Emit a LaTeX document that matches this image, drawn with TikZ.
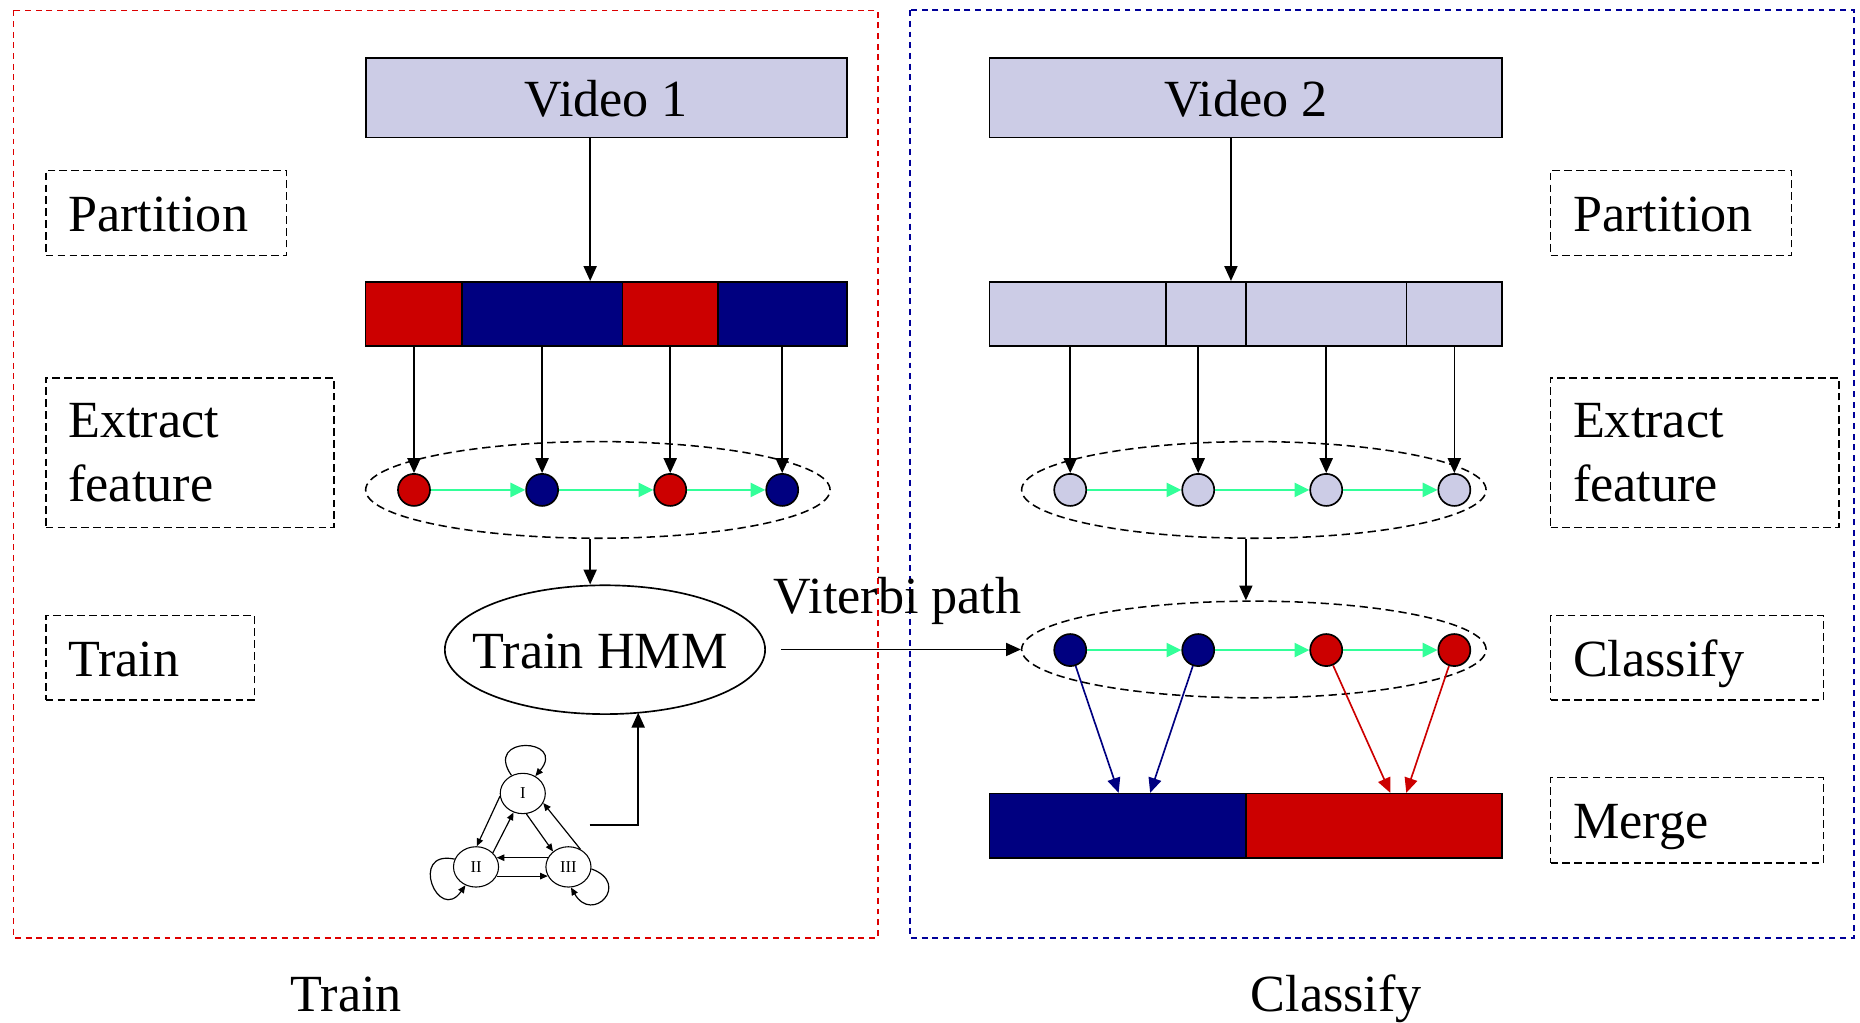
\documentclass[tikz,border=0pt]{standalone}
\usepackage{fontspec}
\setmainfont{Liberation Serif}
\usetikzlibrary{arrows.meta,shapes.geometric}
\definecolor{myred}{HTML}{CC0000}
\definecolor{mynavy}{HTML}{000080}
\definecolor{lav}{HTML}{CCCCE6}
\definecolor{mint}{HTML}{33FF99}
\definecolor{framered}{HTML}{DD0000}
\definecolor{frameblue}{HTML}{000099}
\begin{document}
\begin{tikzpicture}[x=1pt,y=1pt,
  big/.style={font=\fontsize{44}{54}\selectfont},
  lbl/.style={draw, dash pattern=on 6.5pt off 3.5pt, line width=1.2pt, big, align=left, anchor=north west, inner xsep=19pt, inner ysep=0pt},
  one/.style={text height=31pt, text depth=0pt},
  vbox/.style={draw, fill=lav, line width=1.4pt, minimum height=67pt, inner sep=0pt, big, one},
  seg/.style={draw, line width=1.3pt, minimum height=54.2pt, inner sep=0pt},
  dot/.style={circle, draw, line width=1.4pt, minimum size=27pt, inner sep=0pt},
  fe/.style={draw, ellipse, dash pattern=on 7pt off 4pt, line width=1.3pt, minimum width=391.5pt, minimum height=81.5pt, inner sep=0pt},
  arr/.style={-{Triangle[length=12.5pt,width=11pt]}, line width=1.4pt},
  garr/.style={-{Triangle[length=12.5pt,width=12pt]}, line width=1.6pt, draw=mint, fill=mint},
  hmmnode/.style={draw, ellipse, minimum width=38pt, minimum height=34pt, inner sep=0pt, line width=0.9pt, font=\fontsize{14}{16}\selectfont},
  sarr/.style={-{Triangle[length=6.5pt,width=5.5pt]}, line width=1pt},
  framebox/.style={dash pattern=on 5pt off 4pt, line width=1.3pt}
]
\useasboundingbox (0,0) rectangle (1568,-862);

% frames
\draw[framebox, draw=framered] (11.5,-8.8) rectangle (740,-790.6);
\draw[framebox, draw=frameblue] (767,-8.6) rectangle (1563,-790.6);

% bottom titles
\node[big, anchor=base] (tTrain) at (292,-852.5) {Train};
\node[big, anchor=base] (tClassify) at (1126.5,-852.5) {Classify};

% left label boxes
\node[lbl, one, minimum height=72pt, text width=165pt] (lPart) at (38,-143) {Partition};
\node[lbl, minimum height=126pt, text width=205pt] (lExt) at (38,-318) {Extract\\feature};
\node[lbl, one, minimum height=71pt, text width=138pt] (lTrain) at (38,-518.5) {Train};

% right label boxes
\node[lbl, one, minimum height=72pt, text width=165pt] (rPart) at (1306.5,-143) {Partition};
\node[lbl, minimum height=126pt, text width=205pt] (rExt) at (1306.5,-318) {Extract\\feature};
\node[lbl, one, minimum height=71pt, text width=192pt] (rCls) at (1306.5,-518.5) {Classify};
\node[lbl, one, minimum height=72pt, text width=192pt] (rMerge) at (1306.5,-655) {Merge};

% videos
\node[vbox, minimum width=405.6pt] (v1) at (511.1,-82.5) {Video 1};
\node[vbox, minimum width=432.2pt] (v2) at (1050.3,-82.5) {Video 2};

% left partition bar
\node[seg, fill=myred, minimum width=81pt] (p1) at (348.8,-264.6) {};
\node[seg, fill=mynavy, minimum width=135.4pt] (p2) at (457,-264.6) {};
\node[seg, fill=myred, minimum width=80.4pt] (p3) at (564.9,-264.6) {};
\node[seg, fill=mynavy, minimum width=108.8pt] (p4) at (659.5,-264.6) {};

% right partition bar
\node[seg, fill=lav, minimum width=148.7pt] (q1) at (908.55,-264.6) {};
\node[seg, fill=lav, minimum width=67.4pt] (q2) at (1016.6,-264.6) {};
\node[seg, fill=lav, minimum width=135.2pt] (q3) at (1117.9,-264.6) {};
\node[seg, fill=lav, minimum width=80.9pt] (q4) at (1225.95,-264.6) {};

% feature ellipses
\node[fe] (fe1) at (504,-413) {};
\node[fe] (fe2) at (1057,-413) {};
\node[fe] (cls) at (1057,-547.5) {};

% circles
\node[dot, fill=myred] (a1) at (349,-413) {};
\node[dot, fill=mynavy] (a2) at (457,-413) {};
\node[dot, fill=myred] (a3) at (565,-413) {};
\node[dot, fill=mynavy] (a4) at (659.4,-413) {};
\node[dot, fill=lav] (b1) at (902.2,-413) {};
\node[dot, fill=lav] (b2) at (1010.1,-413) {};
\node[dot, fill=lav] (b3) at (1118,-413) {};
\node[dot, fill=lav] (b4) at (1226,-413) {};
\node[dot, fill=mynavy] (c1) at (902.2,-548) {};
\node[dot, fill=mynavy] (c2) at (1010.1,-548) {};
\node[dot, fill=myred] (c3) at (1118,-548) {};
\node[dot, fill=myred] (c4) at (1226,-548) {};

% merge bar
\node[seg, fill=mynavy, minimum width=216.4pt] (m1) at (942.4,-696.1) {};
\node[seg, fill=myred, minimum width=215.8pt] (m2) at (1158.5,-696.1) {};

% train HMM
\node[draw, ellipse, line width=1.4pt, minimum width=270pt, minimum height=108.6pt, inner sep=0pt,
      label={[big, one, xshift=-4pt]center:Train HMM}] (hmm) at (510,-547.7) {};

% arrows video -> bars
\draw[arr] ([xshift=-13.6pt]v1.south) -- ([xshift=-13.6pt]v1.south |- p2.north);
\draw[arr] ([xshift=-12.6pt]v2.south) -- ([xshift=-12.6pt]v2.south |- q2.north);

% bars -> circles
\draw[arr] (a1 |- p1.south) -- (a1);
\draw[arr] (a2 |- p2.south) -- (a2);
\draw[arr] (a3 |- p3.south) -- (a3);
\draw[arr] (a4 |- p4.south) -- (a4);
\draw[arr] (b1 |- q1.south) -- (b1);
\draw[arr] (b2 |- q2.south) -- (b2);
\draw[arr] (b3 |- q3.south) -- (b3);
\draw[arr] (b4 |- q4.south) -- (b4);

% green chains
\draw[garr] (a1) -- (a2);
\draw[garr] (a2) -- (a3);
\draw[garr] (a3) -- (a4);
\draw[garr] (b1) -- (b2);
\draw[garr] (b2) -- (b3);
\draw[garr] (b3) -- (b4);
\draw[garr] (c1) -- (c2);
\draw[garr] (c2) -- (c3);
\draw[garr] (c3) -- (c4);

% ellipse -> HMM / classify
\draw[arr] ([xshift=-6.5pt]fe1.south) -- ([xshift=-6.5pt]fe1.south |- hmm.north);
\draw[arr] ([xshift=-6.7pt]fe2.south) -- ([xshift=-6.7pt]fe2.south |- cls.north);

% Viterbi path
\coordinate (vs) at (658.6,-547.5);
\draw[arr] (vs) -- (cls.west);
\node[big, anchor=base] (vlab) at (756.8,-517) {Viterbi path};

% merge arrows
\draw[arr, draw=mynavy, fill=mynavy] (c1) -- ([xshift=0.6pt]m1.north);
\draw[arr, draw=mynavy, fill=mynavy] (c2) -- ([xshift=27.2pt]m1.north);
\draw[arr, draw=myred, fill=myred] (c3) -- ([xshift=13.5pt]m2.north);
\draw[arr, draw=myred, fill=myred] (c4) -- ([xshift=27pt]m2.north);

% small HMM graph
\node[hmmnode] (I) at (440.7,-668.9) {I};
\node[hmmnode] (II) at (401.3,-730.8) {II};
\node[hmmnode] (III) at (479.2,-730.8) {III};
\draw[sarr] (I.122) .. controls +(125:42) and +(50:42) .. (I.54);
\draw[sarr] (II.160) .. controls +(168:40) and +(235:40) .. (II.240);
\draw[sarr] (III.-5) .. controls +(-20:36) and +(-60:36) .. (III.-83);
\draw[sarr] (I.187) -- (II.88);
\draw[sarr] (II.40) -- (I.244);
\draw[sarr] (I.-80) -- (III.135);
\draw[sarr] (III.56) -- (I.-25);
\draw[sarr] (III.156) -- (II.24);
\draw[sarr] (II.-24) -- (III.204);

\coordinate (hmmout) at (497,-695.6);
\coordinate (hmmin) at (538,-600.8);
\draw[arr] (hmmout) -| (hmmin);
\end{tikzpicture}
\end{document}
